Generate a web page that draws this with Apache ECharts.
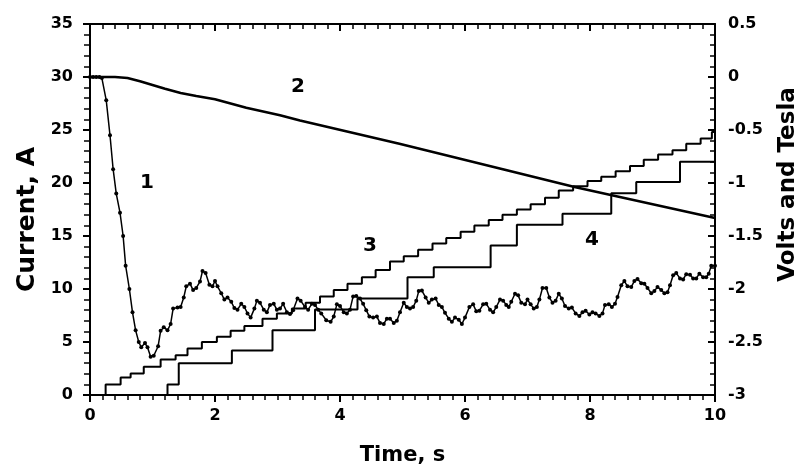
<!DOCTYPE html>
<html>
<head>
<meta charset="utf-8">
<title>Current, voltage and field vs time</title>
<script src="https://cdn.jsdelivr.net/npm/echarts@6/dist/echarts.min.js"></script>
<style>
  html, body { margin: 0; padding: 0; background: #fff; }
  #chart { width: 799px; height: 464px; }
</style>
</head>
<body>
<div id="chart"></div>
<script>
// curve 1 - current, A (dots)
const current1 = [
  [0, 30], [0.05, 30], [0.1, 30], [0.15, 30], [0.19, 29.9], [0.26, 27.8], [0.32, 24.5],
  [0.37, 21.3], [0.42, 19.0], [0.48, 17.2], [0.53, 15.0], [0.57, 12.2], [0.63, 10.0],
  [0.68, 7.8], [0.73, 6.1], [0.78, 5.0], [0.82, 4.5], [0.88, 4.9], [0.92, 4.5], [0.97, 3.6],
  [1.02, 3.7], [1.09, 4.6], [1.13, 6.05], [1.18, 6.4], [1.24, 6.1], [1.29, 6.7], [1.33, 8.15],
  [1.40, 8.25], [1.45, 8.3], [1.50, 9.2], [1.54, 10.25], [1.60, 10.5], [1.65, 9.9], [1.70, 10.1],
  [1.76, 10.7], [1.80, 11.7], [1.85, 11.5], [1.91, 10.4], [1.96, 10.25], [2.0, 10.75], [2.04, 10.25],
  [2.10, 9.6], [2.15, 9.0], [2.20, 9.2], [2.26, 8.8], [2.31, 8.2], [2.36, 8.05], [2.42, 8.6],
  [2.47, 8.3], [2.52, 7.7], [2.57, 7.3], [2.63, 8.15], [2.67, 8.9], [2.72, 8.7], [2.78, 8.05],
  [2.83, 7.8], [2.88, 8.5], [2.94, 8.6], [2.99, 8.05], [3.04, 8.15], [3.09, 8.6], [3.15, 7.8],
  [3.20, 7.65], [3.25, 8.0], [3.32, 9.1], [3.37, 8.9], [3.44, 8.3], [3.49, 8.05], [3.55, 8.6],
  [3.60, 8.5], [3.65, 8.05], [3.70, 7.7], [3.78, 7.05], [3.85, 6.9], [3.90, 7.4], [3.95, 8.55],
  [4.0, 8.4], [4.06, 7.8], [4.11, 7.7], [4.16, 8.05], [4.21, 9.3], [4.26, 9.35], [4.32, 9.1],
  [4.37, 8.6], [4.42, 8.0], [4.47, 7.4], [4.53, 7.3], [4.59, 7.4], [4.64, 6.8], [4.70, 6.7],
  [4.75, 7.2], [4.80, 7.2], [4.86, 6.8], [4.91, 7.0], [4.96, 7.8], [5.02, 8.7], [5.07, 8.3],
  [5.12, 8.15], [5.17, 8.3], [5.22, 8.9], [5.26, 9.8], [5.31, 9.85], [5.37, 9.2], [5.42, 8.7],
  [5.47, 9.0], [5.53, 9.1], [5.58, 8.5], [5.63, 8.3], [5.68, 7.75], [5.74, 7.2], [5.79, 6.9],
  [5.84, 7.3], [5.90, 7.1], [5.95, 6.7], [6.0, 7.3], [6.07, 8.3], [6.13, 8.55], [6.18, 7.9],
  [6.23, 7.95], [6.29, 8.55], [6.34, 8.6], [6.40, 8.05], [6.45, 7.8], [6.50, 8.3], [6.56, 9.0],
  [6.61, 8.9], [6.66, 8.5], [6.70, 8.3], [6.74, 8.8], [6.80, 9.55], [6.85, 9.4], [6.90, 8.7],
  [6.96, 8.55], [7.0, 9.0], [7.05, 8.55], [7.10, 8.15], [7.15, 8.3], [7.19, 9.0], [7.24, 10.1],
  [7.30, 10.1], [7.35, 9.2], [7.40, 8.7], [7.45, 8.9], [7.50, 9.55], [7.55, 9.1], [7.60, 8.4],
  [7.66, 8.15], [7.71, 8.25], [7.77, 7.7], [7.83, 7.45], [7.88, 7.8], [7.93, 7.95], [7.99, 7.6],
  [8.04, 7.8], [8.09, 7.7], [8.15, 7.45], [8.20, 7.7], [8.24, 8.5], [8.30, 8.55], [8.35, 8.3],
  [8.40, 8.6], [8.44, 9.25], [8.50, 10.35], [8.55, 10.75], [8.60, 10.25], [8.66, 10.2], [8.71, 10.75],
  [8.76, 10.95], [8.82, 10.55], [8.87, 10.5], [8.92, 10.1], [8.98, 9.6], [9.03, 9.8], [9.08, 10.2],
  [9.14, 9.9], [9.19, 9.6], [9.24, 9.7], [9.28, 10.35], [9.33, 11.3], [9.38, 11.5], [9.44, 11.0],
  [9.49, 10.9], [9.54, 11.4], [9.60, 11.35], [9.65, 11.0], [9.70, 11.0], [9.75, 11.45], [9.81, 11.1],
  [9.86, 11.1], [9.90, 11.45], [9.94, 12.2], [10.0, 12.2]
]

// curve 2 - volts (right axis)
const volts2 = [
  [0, 0], [0.4, 0], [0.6, -0.01], [0.8, -0.04], [1.0, -0.075], [1.2, -0.11], [1.45, -0.15],
  [1.7, -0.18], [2.0, -0.21], [2.5, -0.29], [3.04, -0.36], [3.36, -0.41], [4.95, -0.63],
  [6.54, -0.86], [7.77, -1.04], [10, -1.33]
]

// curve 3 - small staircase, [time level starts, level]
const steps3 = [
  [0.2, 0], [0.25, 1.0], [0.49, 1.66], [0.65, 2.04], [0.86, 2.66], [1.13, 3.35], [1.37, 3.76],
  [1.56, 4.39], [1.79, 5.0], [2.03, 5.5], [2.25, 6.05], [2.47, 6.5], [2.76, 7.2], [2.99, 7.7],
  [3.23, 8.15], [3.45, 8.7], [3.68, 9.3], [3.90, 9.9], [4.12, 10.5], [4.35, 11.1], [4.57, 11.8],
  [4.80, 12.6], [5.02, 13.1], [5.25, 13.7], [5.48, 14.3], [5.70, 14.8], [5.93, 15.4], [6.15, 16.0],
  [6.38, 16.5], [6.60, 17.0], [6.83, 17.5], [7.05, 18.0], [7.28, 18.6], [7.50, 19.3], [7.73, 19.7],
  [7.96, 20.2], [8.18, 20.6], [8.41, 21.1], [8.64, 21.6], [8.86, 22.2], [9.09, 22.7], [9.32, 23.1],
  [9.54, 23.7], [9.77, 24.2], [9.95, 24.8], [10.0, 25.1]
]

// curve 4 - large staircase
const steps4 = [
  [1.18, 0], [1.24, 1.0], [1.42, 3.0], [2.27, 4.2], [2.92, 6.1], [3.6, 8.06], [4.28, 9.1],
  [5.08, 11.1], [5.5, 12.06], [6.41, 14.1], [6.83, 16.06], [7.56, 17.1], [8.34, 19.03],
  [8.74, 20.1], [9.44, 22.0], [10.0, 22.0]
]

// curve number labels
const curveLabels = [
  { text: '1', x: 147, y: 183 },
  { text: '2', x: 298, y: 87 },
  { text: '3', x: 370, y: 246 },
  { text: '4', x: 592, y: 240 }
]

const font = 'DejaVu Sans'
const black = '#000'

function axisBase(extra) {
  return Object.assign({
    type: 'value',
    splitLine: { show: false },
    axisLine: { show: true, onZero: false, lineStyle: { color: black, width: 2 } },
    axisTick: { show: true, length: 7, lineStyle: { color: black, width: 2 } },
    minorTick: { show: true, length: 5, lineStyle: { color: black, width: 1.5 } },
    axisLabel: { color: black, fontFamily: font, fontWeight: 'bold', fontSize: 16 },
    nameTextStyle: { color: black, fontFamily: font, fontWeight: 'bold', fontSize: 21 }
  }, extra)
}

const chart = echarts.init(document.getElementById('chart'), null, { renderer: 'canvas' })

chart.setOption({
  animation: false,
  backgroundColor: '#fff',
  // keep the plot box fixed, names and labels may sit in the margins
  grid: { left: 90, right: 84, top: 24, bottom: 69, containLabel: false, outerBoundsMode: 'none' },
  xAxis: [
    axisBase({
      min: 0, max: 10, interval: 2, position: 'bottom',
      minorTick: { show: true, splitNumber: 10, length: 5, lineStyle: { color: black, width: 1.5 } },
      axisLabel: { color: black, fontFamily: font, fontWeight: 'bold', fontSize: 16, margin: 13 },
      name: 'Time, s', nameLocation: 'middle', nameGap: 50
    }),
    axisBase({
      min: 0, max: 10, interval: 2, position: 'top',
      axisTick: { show: true, inside: true, length: 7, lineStyle: { color: black, width: 2 } },
      minorTick: { show: true, splitNumber: 10, length: 5, lineStyle: { color: black, width: 1.5 } },
      axisLabel: { show: false }
    })
  ],
  yAxis: [
    axisBase({
      min: 0, max: 35, interval: 5, position: 'left',
      minorTick: { show: true, splitNumber: 5, length: 6, lineStyle: { color: black, width: 1.5 } },
      axisLabel: { color: black, fontFamily: font, fontWeight: 'bold', fontSize: 16, margin: 17 },
      name: 'Current, A', nameLocation: 'middle', nameGap: 50,
      nameTextStyle: { color: black, fontFamily: font, fontWeight: 'bold', fontSize: 25, padding: [0, 20, 0, 0] }
    }),
    axisBase({
      min: -3, max: 0.5, interval: 0.5, position: 'right',
      axisTick: { show: true, inside: true, length: 7, lineStyle: { color: black, width: 2 } },
      minorTick: { show: true, splitNumber: 5, length: 5, lineStyle: { color: black, width: 1.5 } },
      axisLabel: { color: black, fontFamily: font, fontWeight: 'bold', fontSize: 16, margin: 13 },
      name: 'Volts and Tesla', nameLocation: 'middle', nameGap: 62, nameRotate: 90,
      nameTextStyle: { color: black, fontFamily: font, fontWeight: 'bold', fontSize: 23, padding: [0, 0, 0, 50] }
    })
  ],
  series: [
    {
      name: '1', type: 'line', data: current1, xAxisIndex: 0, yAxisIndex: 0,
      symbol: 'circle', symbolSize: 4, showAllSymbol: true,
      lineStyle: { color: black, width: 1.5 }, itemStyle: { color: black }
    },
    {
      name: '2', type: 'line', data: volts2, xAxisIndex: 0, yAxisIndex: 1,
      showSymbol: false,
      lineStyle: { color: black, width: 2.6 }
    },
    {
      name: '3', type: 'line', data: steps3, xAxisIndex: 0, yAxisIndex: 0,
      step: 'end', showSymbol: false,
      lineStyle: { color: black, width: 2 }
    },
    {
      name: '4', type: 'line', data: steps4, xAxisIndex: 0, yAxisIndex: 0,
      step: 'end', showSymbol: false,
      lineStyle: { color: black, width: 2 }
    }
  ],
  graphic: curveLabels.map(l => ({
    type: 'text', x: l.x, y: l.y, z: 100,
    style: {
      text: l.text, fill: black, font: 'bold 20px "' + font + '"',
      textAlign: 'center', textVerticalAlign: 'middle'
    }
  }))
})
</script>
</body>
</html>
